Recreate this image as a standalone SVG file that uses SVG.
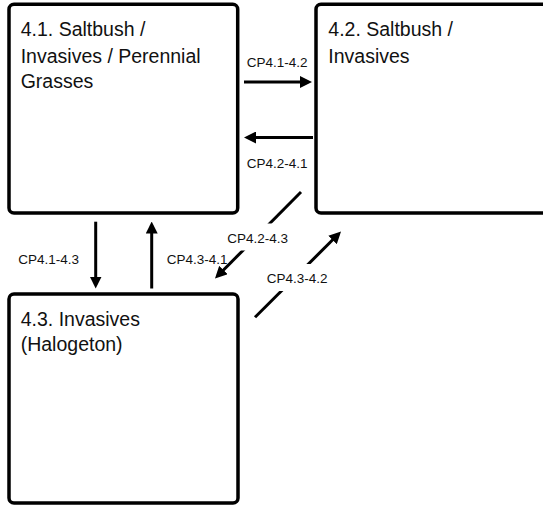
<svg xmlns="http://www.w3.org/2000/svg" width="543" height="506" viewBox="0 0 543 506">
<defs>
<marker id="ah" markerUnits="userSpaceOnUse" markerWidth="12" markerHeight="12" refX="8" refY="6" orient="auto">
<path d="M0,0 L12,6 L0,12 z" fill="#000"/>
</marker>
<style>
.box{fill:#fff;stroke:#000;stroke-width:3.5}
.t{font-family:"Liberation Sans",Arial,sans-serif;font-size:19.5px;fill:#111}
.c{stroke:#000;stroke-width:3;fill:none;marker-end:url(#ah)}
.l{font-family:"Liberation Sans",Arial,sans-serif;font-size:13.5px;fill:#111}
.bg{fill:#fff}
</style>
</defs>
<rect width="543" height="506" fill="#fff"/>
<g id="node-4-1">
<rect class="box" x="9" y="4.3" width="228.7" height="208.7" rx="5"/>
<text class="t" x="20.7" y="36">4.1. Saltbush /</text>
<text class="t" x="20.7" y="62.5">Invasives / Perennial</text>
<text class="t" x="20.7" y="87.5">Grasses</text>
</g>
<g id="node-4-2">
<rect class="box" x="316" y="4.3" width="232" height="208.7" rx="5"/>
<text class="t" x="328.3" y="36">4.2. Saltbush /</text>
<text class="t" x="328.3" y="62.5">Invasives</text>
</g>
<g id="node-4-3">
<rect class="box" x="9" y="294" width="229" height="209" rx="5"/>
<text class="t" x="20.7" y="325.7">4.3. Invasives</text>
<text class="t" x="20.7" y="351">(Halogeton)</text>
</g>
<g id="connectors">
<line class="c" x1="244" y1="82" x2="308" y2="82"/>
<text class="l" x="246.7" y="66.7">CP4.1-4.2</text>
<line class="c" x1="313" y1="137.5" x2="248" y2="137.5"/>
<text class="l" x="246.7" y="168.3">CP4.2-4.1</text>
<line class="c" x1="95.7" y1="221.7" x2="95.7" y2="284.5"/>
<text class="l" x="18.3" y="264">CP4.1-4.3</text>
<line class="c" x1="151.7" y1="288.5" x2="151.7" y2="225.5"/>
<text class="l" x="166.7" y="264">CP4.3-4.1</text>
<line class="c" x1="301" y1="192" x2="217.8" y2="275.7"/>
<rect class="bg" x="227" y="223.5" width="63" height="27"/>
<text class="l" x="227.3" y="243.3">CP4.2-4.3</text>
<line class="c" x1="255" y1="317.3" x2="338.2" y2="234.3"/>
<rect class="bg" x="266" y="264" width="64" height="27"/>
<text class="l" x="266.7" y="282.7">CP4.3-4.2</text>
</g>
</svg>
